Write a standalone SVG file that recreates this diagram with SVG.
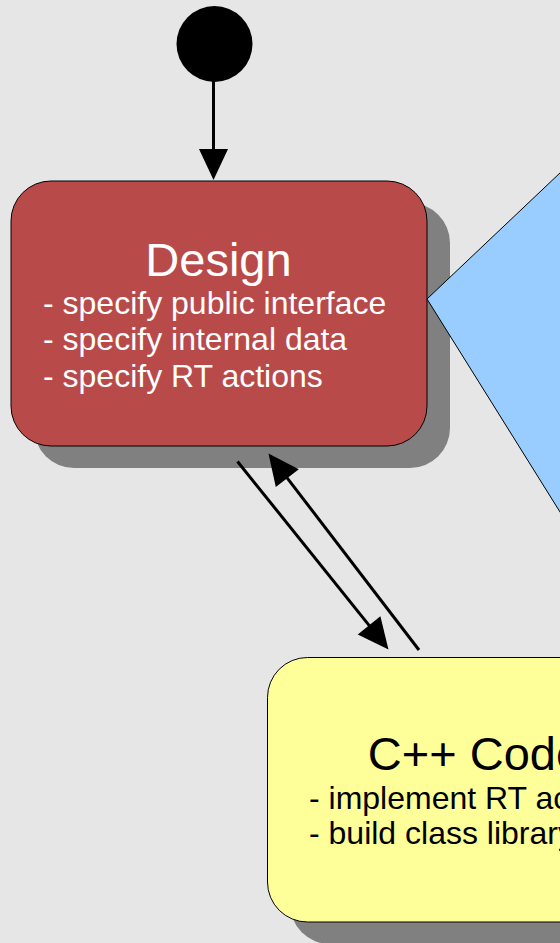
<svg xmlns="http://www.w3.org/2000/svg" width="560" height="943" viewBox="0 0 560 943">
  <style>
    .shadow { fill: #808080; }
    .state { stroke: #000; stroke-width: 1; }
    .title { font-family: "Liberation Sans", Arial, sans-serif; font-size: 47px; text-anchor: middle; }
    .body { font-family: "Liberation Sans", Arial, sans-serif; font-size: 32px; }
    .edge { stroke: #000; stroke-width: 3; fill: none; marker-end: url(#arrow); }
  </style>
  <defs>
    <marker id="arrow" markerUnits="userSpaceOnUse" markerWidth="32" markerHeight="30" viewBox="0 0 32 30" refX="1" refY="15" orient="auto" overflow="visible">
      <path d="M0,0.5 L31,15 L0,29.5 z" fill="#000"/>
    </marker>
  </defs>

  <rect width="560" height="943" fill="#e6e6e6"/>

  <!-- initial state -->
  <g id="start">
    <circle cx="214.5" cy="44" r="38" fill="#000"/>
  </g>

  <!-- Design state -->
  <g id="design">
    <rect class="shadow" x="34" y="203" width="416" height="265" rx="40"/>
    <rect class="state" x="11" y="181" width="416" height="265" rx="40" fill="#b84a4a"/>
    <text class="title" x="218.5" y="276" fill="#fff">Design</text>
    <text class="body" fill="#fff">
      <tspan x="43" y="314">- specify public interface</tspan>
      <tspan x="43" y="350">- specify internal data</tspan>
      <tspan x="43" y="386.5">- specify RT actions</tspan>
    </text>
  </g>

  <!-- decision / side shape on the right -->
  <g id="side">
    <polygon class="state" points="427,299 600,135 600,576" fill="#99ccff"/>
  </g>

  <!-- C++ Code state -->
  <g id="cppcode">
    <rect class="shadow" x="290" y="679" width="416" height="265" rx="40"/>
    <rect class="state" x="267.5" y="657.5" width="416" height="264.5" rx="40" fill="#ffff99"/>
    <text class="title" x="475" y="769.5" fill="#000">C++ Code</text>
    <text class="body" fill="#000">
      <tspan x="309" y="808.5">- implement RT actions</tspan>
      <tspan x="309" y="843.5">- build class library</tspan>
    </text>
  </g>

  <!-- transitions -->
  <g id="connectors">
    <line class="edge" x1="213.5" y1="80" x2="213.5" y2="150"/>
    <line class="edge" x1="237.5" y1="461.5" x2="369.7" y2="626.1"/>
    <line class="edge" x1="419" y1="650" x2="286.7" y2="477.3"/>
  </g>
</svg>
